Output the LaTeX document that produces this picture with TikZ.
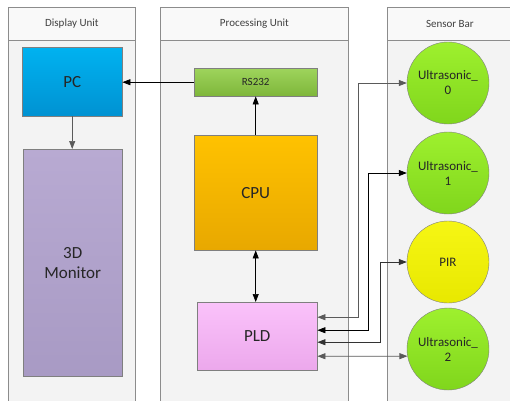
\documentclass[tikz,border=0pt]{standalone}
\usepackage{fontspec}
\setmainfont{Carlito}
\usetikzlibrary{arrows.meta}
\definecolor{lanefill}{HTML}{F3F3F3}
\definecolor{headfill}{HTML}{F9F9F9}
\definecolor{laneline}{HTML}{8C8C8C}
\definecolor{headtext}{HTML}{404040}
\definecolor{boxline}{HTML}{7F7F7F}
\definecolor{wiregray}{HTML}{5A5A5A}
\begin{document}
\begin{tikzpicture}[x=1pt,y=-1pt,
lane/.style={draw=laneline,fill=lanefill,line width=0.8pt},
head/.style={draw=laneline,fill=headfill,line width=0.8pt,anchor=north west,minimum height=33pt,inner sep=0pt,text=headtext,font=\fontsize{11}{13}\selectfont},
box/.style={draw=boxline,anchor=north west,inner sep=0pt,align=center,text=black!85,font=\fontsize{17}{20}\selectfont},
sensor/.style={circle,draw=boxline,minimum size=82pt,inner sep=0pt,align=center,text=black!85,font=\fontsize{13}{15}\selectfont},
link/.style={-{Triangle[length=8pt,width=6pt]},line width=0.7pt},
dlink/.style={{Triangle[length=8pt,width=6pt]}-{Triangle[length=8pt,width=6pt]},line width=0.7pt}]
\useasboundingbox (0,0) rectangle (510,400);
\fill[white] (0,0) rectangle (510,400);
\clip (0,0) rectangle (510,400);

\draw[lane] (8,40) rectangle (135,406);
\draw[lane] (160,40) rectangle (348,406);
\draw[lane] (387,40) rectangle (512,406);
\node[head,minimum width=127pt] (dhead) at (8,7) {Display Unit};
\node[head,minimum width=188pt] (phead) at (160,7) {Processing Unit};
\node[head,minimum width=125pt] (shead) at (387,7) {Sensor Bar};

\node[box,minimum width=100pt,minimum height=69pt,top color={rgb,255:red,0;green,178;blue,240},bottom color={rgb,255:red,0;green,146;blue,210}] (pc) at (22,47) {PC};
\node[box,minimum width=99pt,minimum height=227pt,top color={rgb,255:red,184;green,170;blue,210},bottom color={rgb,255:red,168;green,154;blue,196}] (mon) at (23,149) {3D\\Monitor};
\node[box,minimum width=123pt,minimum height=28pt,font=\fontsize{11}{13}\selectfont,top color={rgb,255:red,158;green,212;blue,92},bottom color={rgb,255:red,126;green,182;blue,58}] (rs) at (194,68) {RS232};
\node[box,minimum width=123pt,minimum height=115pt,top color={rgb,255:red,255;green,194;blue,0},bottom color={rgb,255:red,232;green,168;blue,0}] (cpu) at (194,135) {CPU};
\node[box,minimum width=120pt,minimum height=68pt,top color={rgb,255:red,250;green,194;blue,250},bottom color={rgb,255:red,236;green,168;blue,236}] (pld) at (197,302) {PLD};

\node[sensor,top color={rgb,255:red,158;green,240;blue,46},bottom color={rgb,255:red,128;green,214;blue,28}] (u0) at (448,83) {Ultrasonic\_\\0};
\node[sensor,top color={rgb,255:red,158;green,240;blue,46},bottom color={rgb,255:red,128;green,214;blue,28}] (u1) at (448,173) {Ultrasonic\_\\1};
\node[sensor,top color={rgb,255:red,246;green,246;blue,20},bottom color={rgb,255:red,232;green,232;blue,0}] (pir) at (448,262) {PIR};
\node[sensor,top color={rgb,255:red,158;green,240;blue,46},bottom color={rgb,255:red,128;green,214;blue,28}] (u2) at (448,349) {Ultrasonic\_\\2};

\coordinate (j0) at (358,0);
\coordinate (j1) at (368,0);
\coordinate (j2) at (380,0);

\draw[link] (rs.west) -- (pc.east |- rs.west);
\draw[link] (cpu.north) -- (rs.south);
\draw[link,wiregray] (pc.south) -- (pc.south |- mon.north);
\draw[dlink] (cpu.south) -- (cpu.south |- pld.north);
\draw[dlink,wiregray] ([yshift=19pt]pld.east) -| (j0 |- u0.west) -- (u0.west);
\draw[dlink] ([yshift=6pt]pld.east) -| (j1 |- u1.west) -- (u1.west);
\draw[dlink,black!80] ([yshift=-6pt]pld.east) -| (j2 |- pir.west) -- (pir.west);
\draw[dlink,wiregray] ([yshift=-20pt]pld.east) -- (u2.190);
\end{tikzpicture}
\end{document}
